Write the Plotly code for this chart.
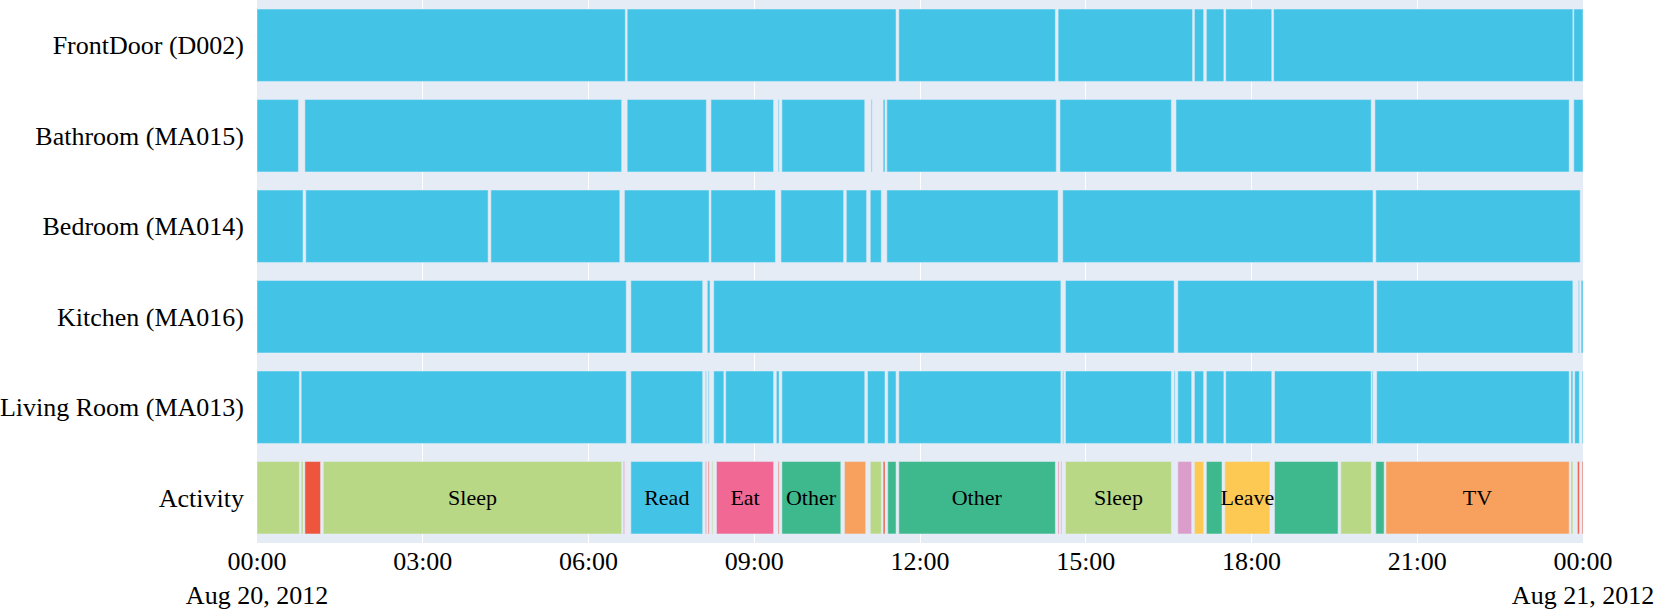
import pandas as pd
import plotly.graph_objects as go

# day shown on the chart
day0 = pd.Timestamp("2012-08-20 00:00")
day1 = pd.Timestamp("2012-08-21 00:00")

# sensor rows, top to bottom, and their ON intervals (start, end) as HH:MM
sensors = ["FrontDoor (D002)", "Bathroom (MA015)", "Bedroom (MA014)",
           "Kitchen (MA016)", "Living Room (MA013)"]

frontdoor = [("00:00", "06:40"), ("06:42", "11:34"), ("11:37", "14:27"), ("14:30", "16:56"),
             ("16:58", "17:08"), ("17:11", "17:30"), ("17:32", "18:22"), ("18:24", "23:49"),
             ("23:50", "24:00")]
bathroom = [("00:00", "00:45"), ("00:52", "06:36"), ("06:42", "08:08"), ("08:13", "09:21"),
            ("09:26", "09:27"), ("09:30", "11:00"), ("11:07", "11:08"), ("11:20", "11:22"),
            ("11:24", "14:28"), ("14:32", "16:33"), ("16:38", "20:10"), ("20:14", "23:45"),
            ("23:50", "24:00")]
bedroom = [("00:00", "00:50"), ("00:53", "04:11"), ("04:14", "06:34"), ("06:39", "08:11"),
           ("08:13", "09:23"), ("09:29", "10:37"), ("10:40", "11:02"), ("11:06", "11:18"),
           ("11:24", "14:30"), ("14:35", "20:12"), ("20:15", "23:57")]
kitchen = [("00:00", "06:41"), ("06:46", "08:04"), ("08:09", "08:12"), ("08:16", "14:33"),
           ("14:38", "16:36"), ("16:40", "20:13"), ("20:16", "23:49"), ("23:55", "23:56"),
           ("23:58", "24:00")]
living = [("00:00", "00:46"), ("00:48", "06:41"), ("06:46", "08:04"), ("08:07", "08:08"),
          ("08:10", "08:11"), ("08:16", "08:27"), ("08:29", "09:21"), ("09:24", "09:27"),
          ("09:30", "11:00"), ("11:03", "11:22"), ("11:25", "11:34"), ("11:37", "14:33"),
          ("14:35", "14:36"), ("14:38", "16:33"), ("16:36", "16:37"), ("16:40", "16:55"),
          ("16:58", "17:08"), ("17:11", "17:30"), ("17:32", "18:22"), ("18:25", "20:10"),
          ("20:11", "20:12"), ("20:16", "23:45"), ("23:47", "23:49"), ("23:51", "23:56"),
          ("23:59", "24:00")]
sensor_intervals = [frontdoor, bathroom, bedroom, kitchen, living]

# activity row: start, end, activity, shown label
act_start = ["00:00", "00:48", "00:52", "01:12", "06:38", "06:46", "08:07", "08:10", "08:14",
             "08:19", "09:26", "09:30", "10:38", "11:06", "11:20", "11:25", "11:37", "14:30",
             "14:33", "14:38", "16:40", "16:58", "17:11", "17:31", "18:25", "19:37", "20:15",
             "20:26", "23:47", "23:54", "23:59"]
act_end = ["00:46", "00:50", "01:09", "06:36", "06:39", "08:04", "08:08", "08:11", "08:15",
           "09:21", "09:27", "10:34", "11:01", "11:18", "11:22", "11:34", "14:27", "14:31",
           "14:34", "16:33", "16:55", "17:08", "17:28", "18:20", "19:34", "20:10", "20:24",
           "23:45", "23:49", "23:56", "24:00"]
act_name = ["Sleep", "Sleep", "Toilet", "Sleep", "Eat", "Read", "Eat", "Toilet", "Sleep",
            "Eat", "Toilet", "Other", "TV", "Sleep", "Toilet", "Other", "Other", "Eat",
            "TV", "Sleep", "Bathe", "Leave", "Other", "Leave", "Other", "Sleep", "Other",
            "TV", "Sleep", "Toilet", "Toilet"]
act_text = ["", "", "", "Sleep", "", "Read", "", "", "", "Eat", "", "Other", "", "", "", "",
            "Other", "", "", "Sleep", "", "", "", "Leave", "", "", "", "TV", "", "", ""]

act_colors = {"Sleep": "#B8D886", "Toilet": "#EE553D", "Read": "#43C4E7", "Eat": "#F06893",
              "Other": "#3EB98E", "TV": "#F8A15F", "Leave": "#FDC953", "Bathe": "#DB9DC9"}
sensor_color = "#43C4E7"


def to_ts(hm):
    h, m = map(int, hm.split(":"))
    return day0 + pd.Timedelta(hours=h, minutes=m)


def dur_ms(a, b):
    return (to_ts(b) - to_ts(a)).total_seconds() * 1000


fig = go.Figure()

ys, bases, durs = [], [], []
for name, ivs in zip(sensors, sensor_intervals):
    for a, b in ivs:
        ys.append(name)
        bases.append(to_ts(a).isoformat())
        durs.append(dur_ms(a, b))

fig.add_trace(go.Bar(
    y=ys, x=durs, base=bases, orientation="h",
    marker_color=sensor_color, showlegend=False,
))

fig.add_trace(go.Bar(
    y=["Activity"] * len(act_start),
    x=[dur_ms(a, b) for a, b in zip(act_start, act_end)],
    base=[to_ts(a).isoformat() for a in act_start],
    orientation="h",
    marker_color=[act_colors[n] for n in act_name],
    text=act_text, textposition="inside", insidetextanchor="middle",
    textangle=0, textfont=dict(color="black", size=22),
    hovertext=act_name, showlegend=False,
))

order = ["Activity"] + sensors[::-1]

fig.update_layout(
    width=1654, height=610,
    margin=dict(l=257, r=71, t=0, b=67),
    font=dict(family="Liberation Serif", size=26, color="black"),
    barmode="overlay",
    uniformtext=dict(minsize=22, mode="show"),
    showlegend=False,
    plot_bgcolor="#E5ECF6",
)
fig.update_xaxes(type="date", range=[day0, day1], tick0=day0, dtick=3 * 3600 * 1000,
                 gridcolor="white", ticklabeloverflow="allow")
fig.update_yaxes(categoryorder="array", categoryarray=order, ticklabelstandoff=12)

# drop the page's default body margin so the figure sits at the top-left corner
fig.write_html("out.html", config={"displayModeBar": False},
               post_script="document.body.style.margin='0';")
